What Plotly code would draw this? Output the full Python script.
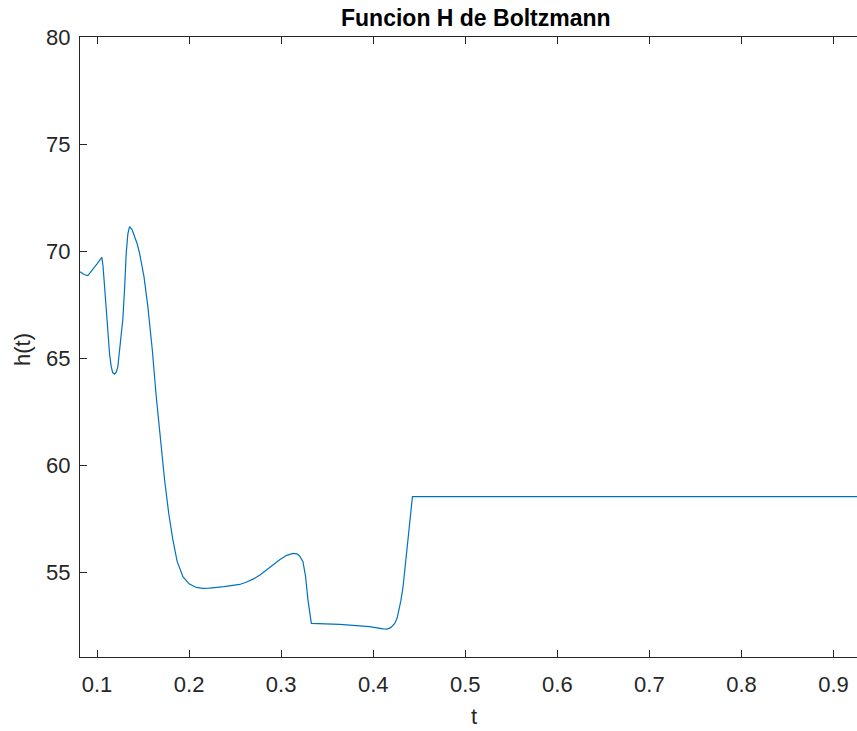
import plotly.graph_objects as go

t_vals = [0.0815, 0.086, 0.090, 0.095, 0.100, 0.1052, 0.1065, 0.1082, 0.1100, 0.1118,
          0.1136, 0.1154, 0.117, 0.119, 0.121, 0.1226, 0.125, 0.128, 0.130, 0.1317,
          0.1335, 0.1353, 0.138, 0.1408, 0.1435, 0.1462, 0.151, 0.1552, 0.160, 0.1643,
          0.169, 0.1734, 0.178, 0.1824, 0.187, 0.1933, 0.200, 0.2078, 0.215, 0.222,
          0.238, 0.2549, 0.262, 0.270, 0.277, 0.2839, 0.291, 0.2984, 0.306, 0.3128,
          0.317, 0.320, 0.3237, 0.3265, 0.3291, 0.3310, 0.3328, 0.3636, 0.396, 0.4107,
          0.4150, 0.419, 0.4234, 0.426, 0.428, 0.4300, 0.4324, 0.435, 0.4378, 0.4405,
          0.4426, 0.95]
h_vals = [69.03, 68.90, 68.85, 69.10, 69.40, 69.70, 69.30, 68.33, 67.10, 66.00,
          65.20, 64.60, 64.32, 64.25, 64.35, 64.60, 65.50, 66.80, 68.30, 69.90,
          70.80, 71.14, 71.00, 70.67, 70.35, 69.90, 68.80, 67.40, 65.40, 63.20,
          61.20, 59.30, 57.70, 56.50, 55.50, 54.78, 54.45, 54.28, 54.24, 54.25,
          54.32, 54.42, 54.52, 54.68, 54.86, 55.09, 55.32, 55.57, 55.78, 55.87,
          55.85, 55.75, 55.48, 54.80, 53.70, 53.00, 52.60, 52.55, 52.45, 52.34,
          52.33, 52.40, 52.60, 52.85, 53.20, 53.65, 54.30, 55.40, 56.65, 57.75,
          58.52, 58.52]

x_ticks = [0.1, 0.2, 0.3, 0.4, 0.5, 0.6, 0.7, 0.8, 0.9]
y_ticks = [55, 60, 65, 70, 75, 80]
x_range = [0.0815, 0.9255]
y_range = [51.03, 80]

title_text = "Funcion H de Boltzmann"
x_label = "t"
y_label = "h(t)"

W, H = 857, 731
ML, MR, MT, MB = 80, 0, 37, 74
PW = W - ML - MR
PH = H - MT - MB

def px_x(px):
    return (px - ML) / PW

def px_y(py):
    return (H - MB - py) / PH

font_fam = "Liberation Sans, Arial, Helvetica, sans-serif"
txt_col = "#262626"

fig = go.Figure()
fig.add_trace(go.Scatter(x=t_vals, y=h_vals, mode="lines",
                         line=dict(color="#0072BD", width=1.2, shape="linear"),
                         showlegend=False, hoverinfo="skip"))

fig.update_layout(
    width=W, height=H,
    margin=dict(l=ML, r=MR, t=MT, b=MB, pad=0),
    paper_bgcolor="white", plot_bgcolor="white",
    font=dict(family=font_fam, color=txt_col, size=22),
    xaxis=dict(range=x_range, tickvals=x_ticks, ticktext=[f"{v:g}" for v in x_ticks],
               showgrid=False, zeroline=False, showline=True, linecolor=txt_col, linewidth=1,
               mirror="ticks", ticks="inside", ticklen=7, tickwidth=1, tickcolor=txt_col,
               tickfont=dict(size=22, color=txt_col, family=font_fam),
               ticklabelstandoff=8),
    yaxis=dict(range=y_range, tickvals=y_ticks, ticktext=[str(v) for v in y_ticks],
               showgrid=False, zeroline=False, showline=True, linecolor=txt_col, linewidth=1,
               mirror=False, ticks="inside", ticklen=7, tickwidth=1, tickcolor=txt_col,
               tickfont=dict(size=22, color=txt_col, family=font_fam),
               ticklabelstandoff=4),
    annotations=[
        dict(text="<b>" + title_text + "</b>", xref="paper", yref="paper",
             x=px_x(476), y=px_y(18), xanchor="center", yanchor="middle",
             showarrow=False, font=dict(size=23, color="black", family=font_fam)),
        dict(text=x_label, xref="paper", yref="paper",
             x=px_x(474), y=px_y(716), xanchor="center", yanchor="middle",
             showarrow=False, font=dict(size=22, color=txt_col, family=font_fam)),
        dict(text=y_label, xref="paper", yref="paper", textangle=-90,
             x=px_x(22), y=px_y(350), xanchor="center", yanchor="middle",
             showarrow=False, font=dict(size=22, color=txt_col, family=font_fam)),
    ],
)

fig.write_html("out.html")
